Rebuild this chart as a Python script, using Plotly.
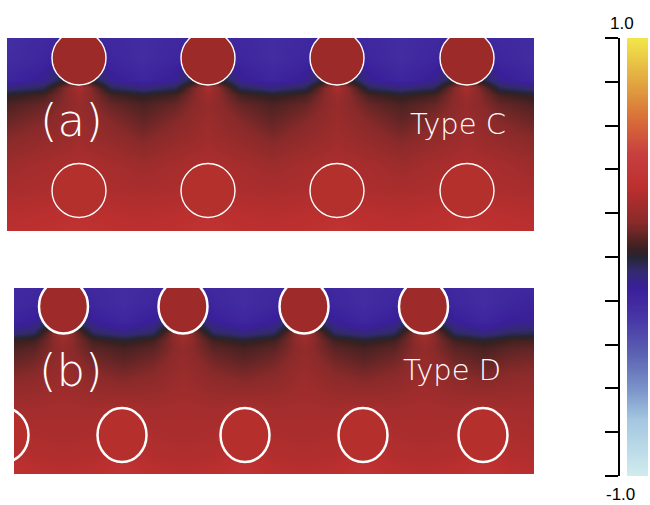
import numpy as np
import plotly.graph_objects as go

W, H = 650, 505

# ---------------- colour scale ----------------
cb_stops = [0.0, 0.13, 0.20, 0.28, 0.36, 0.43, 0.47, 0.50, 0.52, 0.58, 0.66, 0.74, 0.81, 0.89, 1.0]
cb_colors = ["#d2ecee", "#a3c7e1", "#7a93c9", "#5b62b2", "#4836a6", "#3a1f9a", "#332a6e",
             "#252535", "#3a2020", "#8a2a2a", "#bc2f2f", "#c84040", "#d86a38", "#e0a040", "#f2e64a"]
colorscale = [[s, c] for s, c in zip(cb_stops, cb_colors)]
cb_min, cb_max = -1.0, 1.0

# ---------------- panel (a): Type C ----------------
xa = [7, 43, 79, 111, 143, 175, 208, 240, 272, 305, 337, 369, 401, 434, 466, 500, 534]
ya = [38, 60, 80, 88, 95, 105, 120, 140, 165, 190, 212, 231]
za = [
    [-0.23, -0.20, -0.15, -0.20, -0.22, -0.20, -0.15, -0.20, -0.22, -0.20, -0.15, -0.20, -0.22, -0.20, -0.15, -0.20, -0.22],
    [-0.22, -0.18, -0.10, -0.18, -0.22, -0.18, -0.10, -0.18, -0.22, -0.18, -0.10, -0.18, -0.22, -0.18, -0.10, -0.18, -0.22],
    [-0.18, -0.12, 0.10, -0.12, -0.18, -0.12, 0.10, -0.12, -0.18, -0.12, 0.10, -0.12, -0.18, -0.12, 0.10, -0.12, -0.18],
    [-0.08, -0.03, 0.26, -0.03, -0.08, -0.03, 0.26, -0.03, -0.08, -0.03, 0.26, -0.03, -0.08, -0.03, 0.26, -0.03, -0.08],
    [0.02, 0.06, 0.22, 0.06, 0.02, 0.06, 0.22, 0.06, 0.02, 0.06, 0.22, 0.06, 0.02, 0.06, 0.22, 0.06, 0.02],
    [0.07, 0.11, 0.20, 0.11, 0.07, 0.11, 0.20, 0.11, 0.07, 0.11, 0.20, 0.11, 0.07, 0.11, 0.20, 0.11, 0.07],
    [0.11, 0.15, 0.21, 0.15, 0.10, 0.15, 0.21, 0.15, 0.10, 0.15, 0.21, 0.15, 0.10, 0.15, 0.21, 0.15, 0.11],
    [0.16, 0.19, 0.23, 0.19, 0.15, 0.19, 0.23, 0.19, 0.15, 0.19, 0.23, 0.19, 0.15, 0.19, 0.23, 0.19, 0.16],
    [0.22, 0.25, 0.27, 0.25, 0.22, 0.25, 0.27, 0.25, 0.22, 0.25, 0.27, 0.25, 0.22, 0.25, 0.27, 0.25, 0.22],
    [0.26, 0.27, 0.30, 0.27, 0.26, 0.27, 0.30, 0.27, 0.26, 0.27, 0.30, 0.27, 0.26, 0.27, 0.30, 0.27, 0.26],
    [0.30, 0.31, 0.33, 0.31, 0.30, 0.31, 0.33, 0.31, 0.30, 0.31, 0.33, 0.31, 0.30, 0.31, 0.33, 0.31, 0.30],
    [0.32, 0.33, 0.36, 0.33, 0.32, 0.33, 0.36, 0.33, 0.32, 0.33, 0.36, 0.33, 0.32, 0.33, 0.36, 0.33, 0.32],
]
a_top_cx = [79, 208, 337, 467]
a_top_cy = 58
a_bot_cx = [79, 208, 337, 467]
a_bot_cy = 190.5
a_rx, a_ry = 27, 27

# ---------------- panel (b): Type D ----------------
xb = [14, 34, 63, 93, 123, 153, 183, 213, 244, 274, 304, 334, 364, 394, 424, 454, 484, 510, 534]
yb = [288, 305, 322, 333, 340, 348, 362, 382, 408, 435, 455, 474]
zb = [
    [-0.21, -0.20, -0.15, -0.20, -0.22, -0.20, -0.15, -0.20, -0.22, -0.20, -0.15, -0.20, -0.22, -0.20, -0.15, -0.20, -0.22, -0.20, -0.19],
    [-0.20, -0.18, -0.10, -0.18, -0.22, -0.18, -0.10, -0.18, -0.22, -0.18, -0.10, -0.18, -0.22, -0.18, -0.10, -0.18, -0.22, -0.18, -0.16],
    [-0.16, -0.13, 0.05, -0.13, -0.18, -0.13, 0.05, -0.13, -0.18, -0.13, 0.05, -0.13, -0.18, -0.13, 0.05, -0.13, -0.18, -0.13, -0.12],
    [-0.07, -0.04, 0.25, -0.04, -0.09, -0.04, 0.25, -0.04, -0.09, -0.04, 0.25, -0.04, -0.09, -0.04, 0.25, -0.04, -0.09, -0.04, -0.03],
    [0.03, 0.05, 0.22, 0.05, 0.01, 0.05, 0.22, 0.05, 0.01, 0.05, 0.22, 0.05, 0.01, 0.05, 0.22, 0.05, 0.01, 0.05, 0.06],
    [0.07, 0.09, 0.19, 0.09, 0.06, 0.09, 0.19, 0.09, 0.06, 0.09, 0.19, 0.09, 0.06, 0.09, 0.19, 0.09, 0.06, 0.09, 0.10],
    [0.11, 0.13, 0.20, 0.13, 0.10, 0.13, 0.20, 0.13, 0.10, 0.13, 0.20, 0.13, 0.10, 0.13, 0.20, 0.13, 0.10, 0.13, 0.14],
    [0.17, 0.18, 0.22, 0.18, 0.16, 0.18, 0.22, 0.18, 0.16, 0.18, 0.22, 0.18, 0.16, 0.18, 0.22, 0.18, 0.16, 0.18, 0.19],
    [0.24, 0.24, 0.25, 0.24, 0.25, 0.24, 0.25, 0.24, 0.25, 0.24, 0.25, 0.24, 0.25, 0.24, 0.25, 0.24, 0.25, 0.24, 0.24],
    [0.29, 0.27, 0.26, 0.27, 0.32, 0.27, 0.26, 0.27, 0.32, 0.27, 0.26, 0.27, 0.32, 0.27, 0.26, 0.27, 0.32, 0.27, 0.26],
    [0.31, 0.29, 0.28, 0.29, 0.33, 0.29, 0.28, 0.29, 0.33, 0.29, 0.28, 0.29, 0.33, 0.29, 0.28, 0.29, 0.33, 0.29, 0.28],
    [0.34, 0.32, 0.31, 0.32, 0.36, 0.32, 0.31, 0.32, 0.36, 0.32, 0.31, 0.32, 0.36, 0.32, 0.31, 0.32, 0.36, 0.32, 0.31],
]
b_top_cx = [63.5, 183, 304, 423.5]
b_top_cy = 306.5
b_bot_cx = [4, 122, 245, 363, 483]
b_bot_cy = 435
b_rx, b_ry = 24.5, 27

# colour-bar ticks
cb_ticks = [-1.0, -0.8, -0.6, -0.4, -0.2, 0.0, 0.2, 0.4, 0.6, 0.8, 1.0]
cb_labels = ["1.0", "-1.0"]

# ---------------- figure ----------------
def px_x(v):
    return v / W

def px_y(v):
    return 1 - v / H

fig = go.Figure()

fig.add_trace(go.Heatmap(x=xa, y=ya, z=za, colorscale=colorscale, zmin=cb_min, zmax=cb_max,
                         zsmooth="best", showscale=False, hoverinfo="skip", xaxis="x", yaxis="y"))
fig.add_trace(go.Heatmap(x=xb, y=yb, z=zb, colorscale=colorscale, zmin=cb_min, zmax=cb_max,
                         zsmooth="best", showscale=False, hoverinfo="skip", xaxis="x2", yaxis="y2"))

cb_vals = np.linspace(cb_min, cb_max, 201)
fig.add_trace(go.Heatmap(x=[0], y=cb_vals, z=[[v] for v in cb_vals], colorscale=colorscale,
                         zmin=cb_min, zmax=cb_max, zsmooth="best", showscale=False,
                         hoverinfo="skip", xaxis="x3", yaxis="y3"))

shapes = []
def circles(cxs, cy, rx, ry, fill, xref, yref, lw):
    for cx in cxs:
        shapes.append(dict(type="circle", xref=xref, yref=yref,
                           x0=cx - rx, x1=cx + rx, y0=cy - ry, y1=cy + ry,
                           fillcolor=fill, line=dict(color="white", width=lw), layer="above"))

circles(a_top_cx, a_top_cy, a_rx, a_ry, "#9c2a29", "x", "y", 1.4)
circles(a_bot_cx, a_bot_cy, a_rx, a_ry, "#b3302c", "x", "y", 1.4)
circles(b_top_cx, b_top_cy, b_rx, b_ry, "#9e2b2a", "x2", "y2", 2.5)
circles(b_bot_cx, b_bot_cy, b_rx, b_ry, "#b5302c", "x2", "y2", 2.5)

ax_off = dict(visible=False, showgrid=False, zeroline=False, fixedrange=True)

fig.update_layout(
    width=W, height=H,
    margin=dict(l=0, r=0, t=0, b=0),
    paper_bgcolor="white", plot_bgcolor="white",
    showlegend=False,
    shapes=shapes,
    xaxis=dict(domain=[px_x(7), px_x(534)], range=[7, 534], anchor="y", **ax_off),
    yaxis=dict(domain=[px_y(231), px_y(38)], range=[231, 38], anchor="x", **ax_off),
    xaxis2=dict(domain=[px_x(14), px_x(534)], range=[14, 534], anchor="y2", **ax_off),
    yaxis2=dict(domain=[px_y(474), px_y(288)], range=[474, 288], anchor="x2", **ax_off),
    xaxis3=dict(domain=[px_x(627), px_x(648)], range=[-0.5, 0.5], anchor="y3", **ax_off),
    yaxis3=dict(domain=[px_y(476), px_y(38)], range=[cb_min, cb_max], anchor="free",
                position=px_x(619), side="left", showline=True, linecolor="black", linewidth=1.5,
                ticks="outside", ticklen=13, tickwidth=1.5, tickcolor="black",
                tickvals=cb_ticks, showticklabels=False, showgrid=False, zeroline=False,
                fixedrange=True),
)

ann_font = dict(family="DejaVu Sans", color="white", weight=200)
annotations = [
    dict(text="(a)", x=71, y=121, xref="x", yref="y", showarrow=False,
         font=dict(size=45, **ann_font)),
    dict(text="Type C", x=458, y=124, xref="x", yref="y", showarrow=False,
         font=dict(size=29, **ann_font)),
    dict(text="(b)", x=71, y=370, xref="x2", yref="y2", showarrow=False,
         font=dict(size=45, **ann_font)),
    dict(text="Type D", x=452, y=370, xref="x2", yref="y2", showarrow=False,
         font=dict(size=29, **ann_font)),
    dict(text=cb_labels[0], x=px_x(622), y=px_y(23), xref="paper", yref="paper", showarrow=False,
         xanchor="center", yanchor="middle",
         font=dict(family="Liberation Sans", size=17, color="black")),
    dict(text=cb_labels[1], x=px_x(620), y=px_y(494), xref="paper", yref="paper", showarrow=False,
         xanchor="center", yanchor="middle",
         font=dict(family="Liberation Sans", size=17, color="black")),
]
fig.update_layout(annotations=annotations)

fig.write_html("out.html", config={"displayModeBar": False},
               post_script="document.body.style.margin='0';document.body.style.overflow='hidden';")
